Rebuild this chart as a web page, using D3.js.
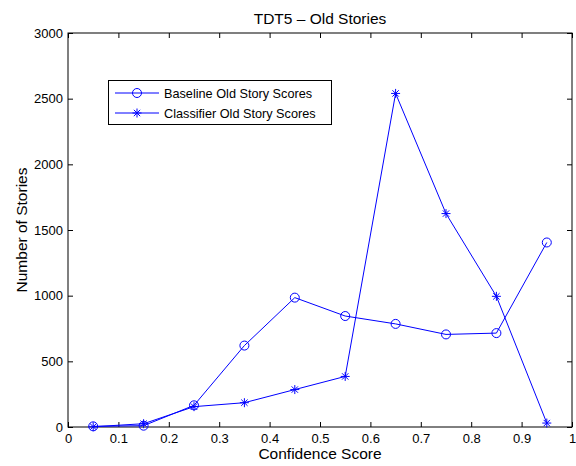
<!DOCTYPE html>
<html lang="en">
<head>
    <meta charset="UTF-8">
    <script src="https://d3js.org/d3.v7.min.js"></script>
    <title>TDT5 - Old Stories</title>
    <style>
        body { margin: 0; background: #fff; }
        text { font-family: "Liberation Sans", Arial, sans-serif; fill: #000; }
    </style>
</head>
<body>
    <script type="text/javascript">

var bins       = [0.05, 0.15, 0.25, 0.35, 0.45, 0.55, 0.65, 0.75, 0.85, 0.95];
var baseline   = [5, 10, 165, 620, 985, 845, 785, 705, 715, 1405];
var classifier = [2, 25, 155, 185, 285, 385, 2540, 1625, 995, 30];
var xTicks     = [0, 0.1, 0.2, 0.3, 0.4, 0.5, 0.6, 0.7, 0.8, 0.9, 1];
var yTicks     = [0, 500, 1000, 1500, 2000, 2500, 3000];

var width = 576, height = 466;
var margin = {top: 33, right: 4, bottom: 39, left: 68};
var w = width - margin.left - margin.right;
var h = height - margin.top - margin.bottom;
var blue = "#0000ff";

var svg = d3.select("body").append("svg")
    .attr("width", width).attr("height", height);

var g = svg.append("g").attr("transform", "translate(" + margin.left + "," + margin.top + ")");

var x = d3.scaleLinear().domain([0, 1]).range([0, w]);
var y = d3.scaleLinear().domain([0, 3000]).range([h, 0]);

// axes, matlab style: ticks inward, box all round
g.append("g").attr("transform", "translate(0," + h + ")")
    .call(d3.axisBottom(x).tickValues(xTicks).tickSize(-5).tickPadding(7).tickFormat(d3.format("")))
    .call(function(a) { a.select(".domain").remove(); });
g.append("g")
    .call(d3.axisTop(x).tickValues(xTicks).tickSize(-5).tickFormat(""))
    .call(function(a) { a.select(".domain").remove(); });
g.append("g")
    .call(d3.axisLeft(y).tickValues(yTicks).tickSize(-5).tickPadding(5).tickFormat(d3.format("d")))
    .call(function(a) { a.select(".domain").remove(); });
g.append("g").attr("transform", "translate(" + w + ",0)")
    .call(d3.axisRight(y).tickValues(yTicks).tickSize(-5).tickFormat(""))
    .call(function(a) { a.select(".domain").remove(); });

g.selectAll(".tick text").style("font-size", "13px").style("font-family", "Liberation Sans, Arial, sans-serif");
g.selectAll(".tick line").attr("stroke", "#000");

g.append("rect").attr("width", w).attr("height", h)
    .attr("fill", "none").attr("stroke", "#000").attr("stroke-width", 1);

var line = d3.line()
    .x(function(d, i) { return x(bins[i]); })
    .y(function(d) { return y(d); });

g.append("path").datum(baseline).attr("d", line)
    .attr("fill", "none").attr("stroke", blue).attr("stroke-width", 1);
g.append("path").datum(classifier).attr("d", line)
    .attr("fill", "none").attr("stroke", blue).attr("stroke-width", 1);

function circleMark(sel, cx, cy) {
    sel.append("circle").attr("cx", cx).attr("cy", cy).attr("r", 4.5)
        .attr("fill", "none").attr("stroke", blue).attr("stroke-width", 1);
}
function starMark(sel, cx, cy) {
    var r = 4.5, d = r * 0.707;
    sel.append("path")
        .attr("d", "M" + (cx - r) + "," + cy + "h" + (2 * r) +
                   "M" + cx + "," + (cy - r) + "v" + (2 * r) +
                   "M" + (cx - d) + "," + (cy - d) + "l" + (2 * d) + "," + (2 * d) +
                   "M" + (cx - d) + "," + (cy + d) + "l" + (2 * d) + "," + (-2 * d))
        .attr("stroke", blue).attr("stroke-width", 1).attr("fill", "none");
}

baseline.forEach(function(d, i) { circleMark(g, x(bins[i]), y(d)); });
classifier.forEach(function(d, i) { starMark(g, x(bins[i]), y(d)); });

// legend
var lg = svg.append("g");
lg.append("rect").attr("x", 108.5).attr("y", 80.5).attr("width", 223).attr("height", 44)
    .attr("fill", "#fff").attr("stroke", "#000");
var names = ["Baseline Old Story Scores", "Classifier Old Story Scores"];
names.forEach(function(n, i) {
    var ly = 93 + i * 20;
    lg.append("line").attr("x1", 115).attr("x2", 159).attr("y1", ly).attr("y2", ly)
        .attr("stroke", blue);
    if (i === 0) circleMark(lg, 137, ly); else starMark(lg, 137, ly);
    lg.append("text").attr("x", 164).attr("y", ly + 4.5).style("font-size", "12.7px").text(n);
});

// titles
svg.append("text").attr("x", margin.left + w / 2).attr("y", 23.5).attr("text-anchor", "middle")
    .style("font-size", "15.5px").text("TDT5 \u2013 Old Stories");
svg.append("text").attr("x", margin.left + w / 2).attr("y", 459).attr("text-anchor", "middle")
    .style("font-size", "15.5px").text("Confidence Score");
svg.append("text").attr("transform", "translate(27," + (margin.top + h / 2) + ") rotate(-90)")
    .attr("text-anchor", "middle").style("font-size", "15.5px").text("Number of Stories");

    </script>
</body>
</html>
